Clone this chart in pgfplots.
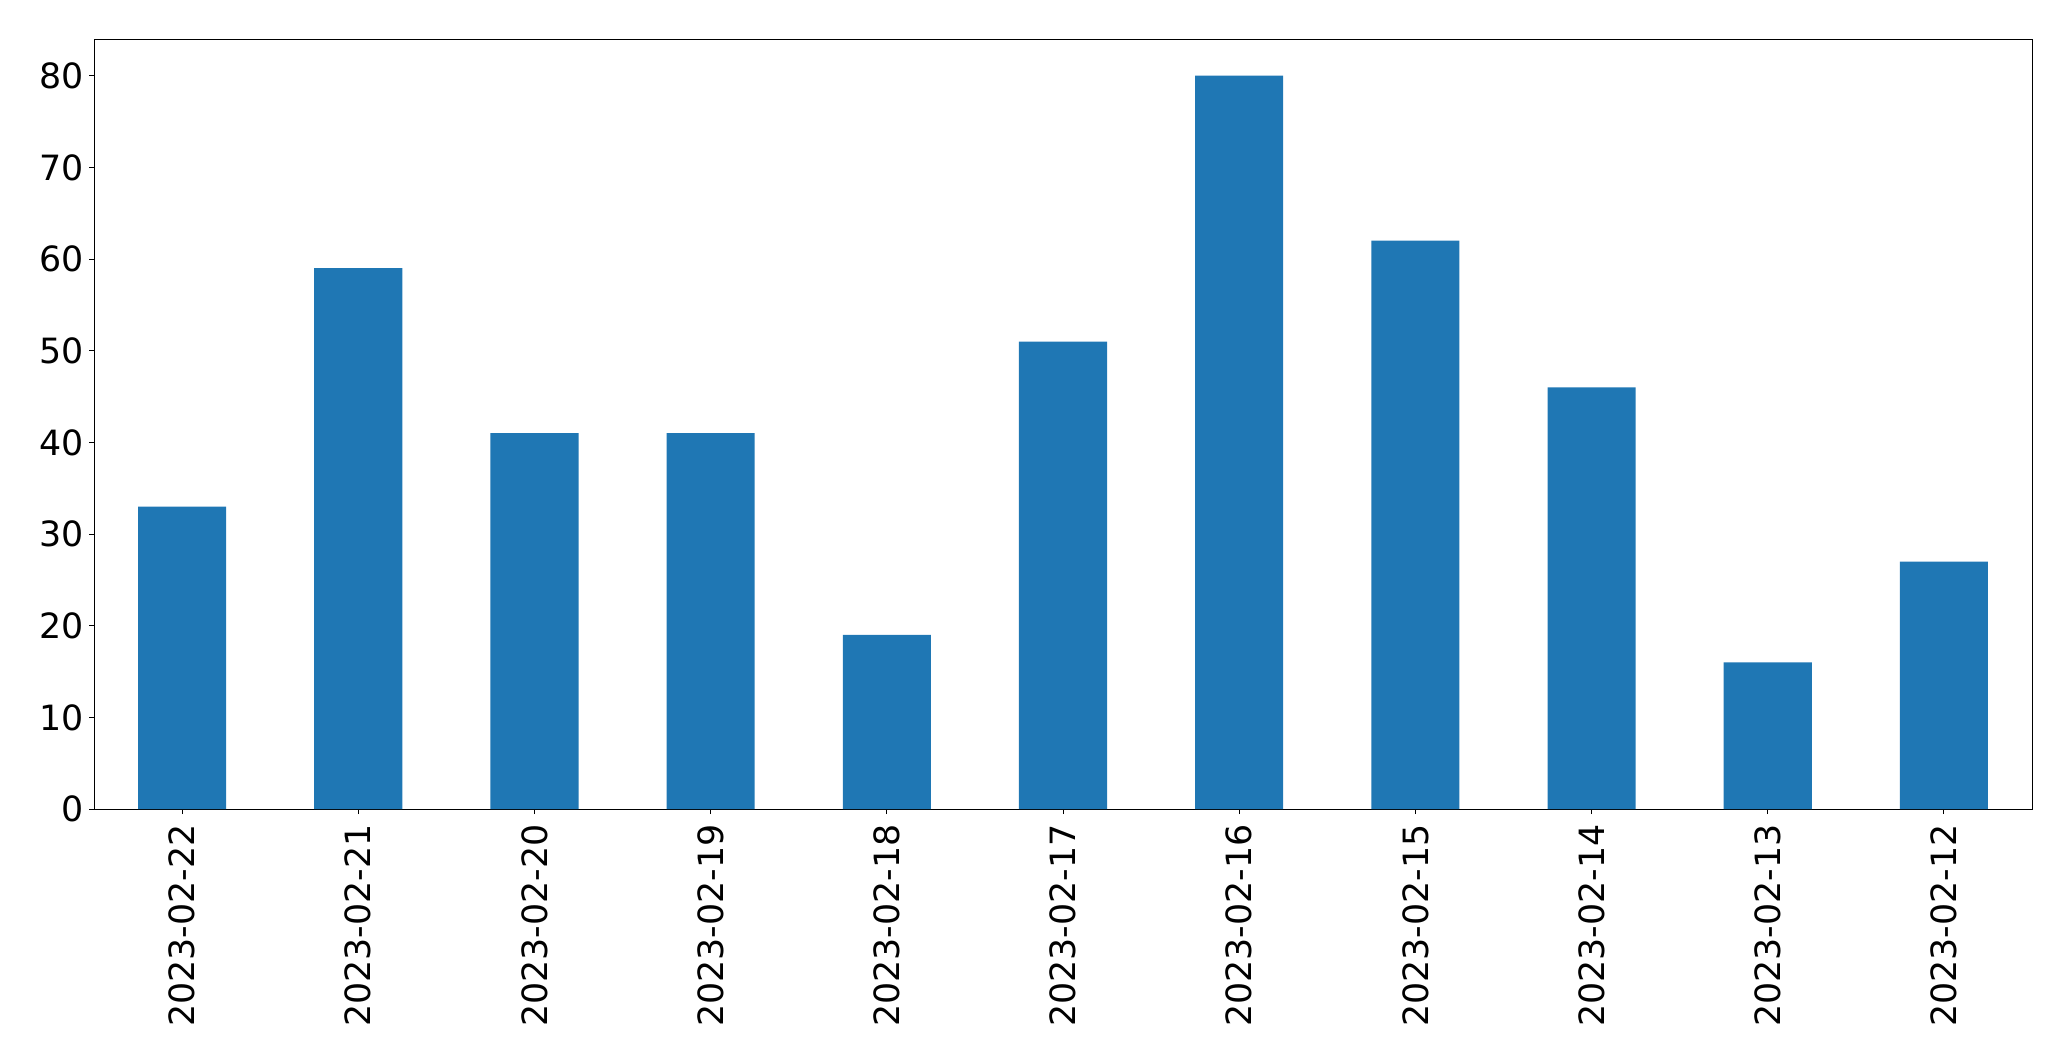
\documentclass[border=0pt]{standalone}
\usepackage{pgfplots}
\pgfplotsset{compat=1.18}
\usepackage{fontspec}
\setmainfont{DejaVu Sans}
\definecolor{mplblue}{HTML}{1F77B4}
\begin{document}
\fontsize{17.4}{20}\selectfont
\begin{tikzpicture}[x=1pt,y=1pt]
\useasboundingbox (0,0) rectangle (1035.5,530.5);
\begin{axis}[
  at={(47pt,126pt)}, anchor=south west,
  scale only axis, width=969pt, height=385pt,
  xmin=-0.5, xmax=10.5, ymin=0, ymax=84,
  xtick={0,...,10},
  xticklabels={2023-02-22,2023-02-21,2023-02-20,2023-02-19,2023-02-18,2023-02-17,2023-02-16,2023-02-15,2023-02-14,2023-02-13,2023-02-12},
  ytick={0,10,...,80},
  tick pos=left, tick align=outside,
  major tick length=2.5pt,
  tick style={black, line width=0.5pt},
  axis line style={black, line width=0.5pt},
  /pgf/number format/assume math mode=true,
  ticklabel style={font=\fontsize{17.4}{20}\selectfont, inner sep=0pt},
  xticklabel style={rotate=90, anchor=east},
  xticklabel shift=5pt,
  yticklabel style={anchor=east},
  yticklabel shift=2.5pt,
]
\addplot[ybar, bar width=0.5, fill=mplblue, draw=none] coordinates {
(0,33) (1,59) (2,41) (3,41) (4,19) (5,51) (6,80) (7,62) (8,46) (9,16) (10,27)};
\end{axis}
\end{tikzpicture}
\end{document}
